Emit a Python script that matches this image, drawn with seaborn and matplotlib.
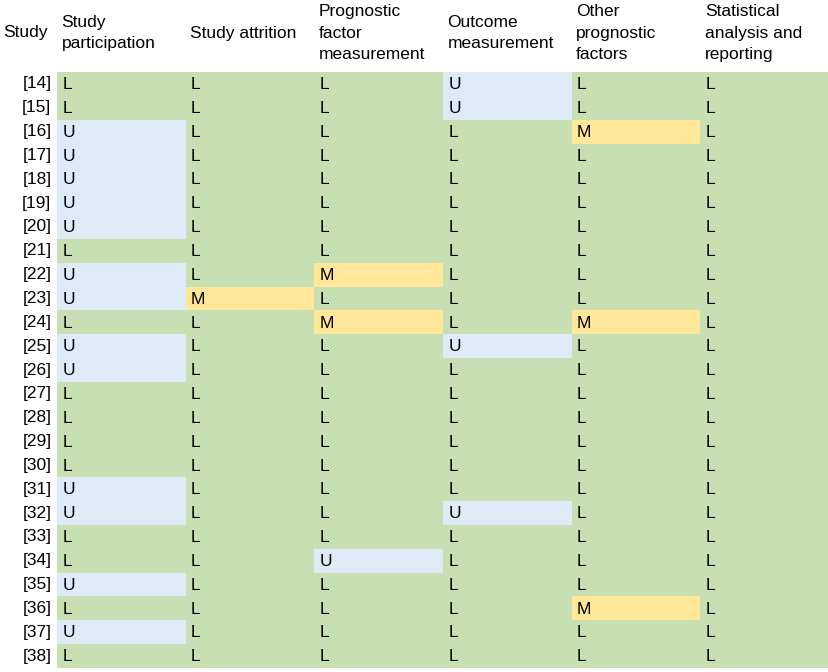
import numpy as np
import pandas as pd
import matplotlib
matplotlib.use('Agg')
import matplotlib.pyplot as plt
import seaborn as sns
from matplotlib.colors import ListedColormap

sns.set_theme(style='white')
plt.rcParams['font.family'] = ['Liberation Sans', 'DejaVu Sans']
plt.rcParams['text.color'] = 'black'
plt.rcParams['xtick.color'] = 'black'
plt.rcParams['ytick.color'] = 'black'

# ---- data ----
studies = [f'[{n}]' for n in range(14, 39)]
domains = ['Study\nparticipation', 'Study attrition', 'Prognostic\nfactor\nmeasurement',
           'Outcome\nmeasurement', 'Other\nprognostic\nfactors', 'Statistical\nanalysis and\nreporting']

study_participation = list('LLUUUUULUULUULLLLUULLULUL')
study_attrition     = list('LLLLLLLLLMLLLLLLLLLLLLLLL')
prognostic_factor   = list('LLLLLLLLMLMLLLLLLLLLULLLL')
outcome_measurement = list('UULLLLLLLLLULLLLLLULLLLLL')
other_prognostic    = list('LLMLLLLLLLMLLLLLLLLLLLMLL')
statistical         = list('LLLLLLLLLLLLLLLLLLLLLLLLL')

ratings = pd.DataFrame({
    domains[0]: study_participation,
    domains[1]: study_attrition,
    domains[2]: prognostic_factor,
    domains[3]: outcome_measurement,
    domains[4]: other_prognostic,
    domains[5]: statistical,
}, index=studies)

code = {'L': 0, 'U': 1, 'M': 2}
codes = ratings.replace(code).astype(int)
cmap = ListedColormap(['#c6e0b4', '#ddebf7', '#ffe699'])

# ---- plot ----
W, H = 829, 672
fig = plt.figure(figsize=(W / 100, H / 100), dpi=100)
ax = fig.add_axes([57 / W, 1 - 668 / H, (829 - 57) / W, (668 - 72) / H])

sns.heatmap(codes, ax=ax, cmap=cmap, vmin=-0.5, vmax=2.5, cbar=False,
            annot=ratings.values, fmt='', linewidths=0,
            annot_kws={'fontsize': 12.5, 'color': 'black'})

# letters sit at the left of each cell
for t in ax.texts:
    x, y = t.get_position()
    t.set_position((x - 0.5 + 0.04, y + 0.03))
    t.set_ha('left')

ax.xaxis.tick_top()
ax.set_xticks(np.arange(len(domains)) + 0.035)
ax.set_xticklabels(domains, rotation=0, ha='left', va='center',
                   fontsize=12.5, linespacing=1.55, color='black')
ax.tick_params(axis='x', length=0, pad=28)
ax.set_yticklabels(studies, rotation=0, fontsize=12.5, color='black')
ax.tick_params(axis='y', length=0, pad=4)
ax.set_xlabel('')
ax.set_ylabel('')

fig.text(3 / W, 1 - 32 / H, 'Study', ha='left', va='center', fontsize=12.5, color='black')

plt.savefig('out.png', dpi=100)
